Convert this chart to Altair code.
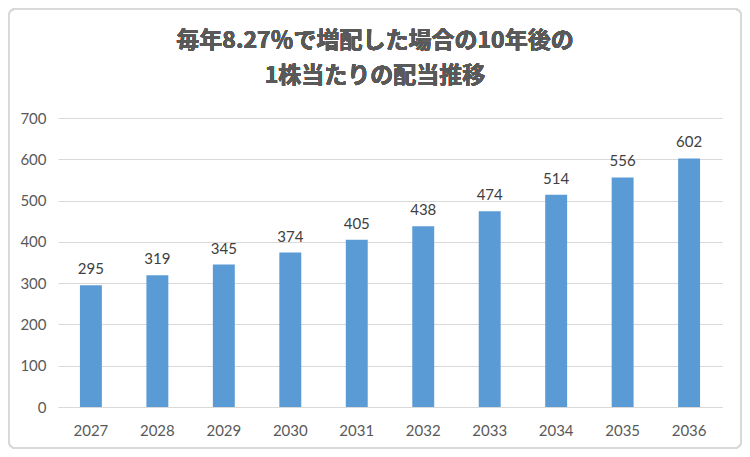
import altair as alt
import pandas as pd

years = ["2027", "2028", "2029", "2030", "2031", "2032", "2033", "2034", "2035", "2036"]
dividends = [295, 319, 345, 374, 405, 438, 474, 514, 556, 602]
title_lines = ["毎年8.27％で増配した場合の10年後の", "1株当たりの配当推移"]

df = pd.DataFrame({"year": years, "dividend": dividends})

gray = "#595959"

base = alt.Chart(df).encode(
    x=alt.X("year:N", sort=years, title=None,
            scale=alt.Scale(paddingInner=0.67, paddingOuter=0.33),
            axis=alt.Axis(labelAngle=0, ticks=False, domainColor="#d9d9d9",
                          labelColor=gray, labelFontSize=15, labelFont="Lato",
                          labelPadding=16)),
    y=alt.Y("dividend:Q", title=None,
            scale=alt.Scale(domain=[0, 700]),
            axis=alt.Axis(values=[0, 100, 200, 300, 400, 500, 600, 700], ticks=False,
                          domain=False, gridColor="#d9d9d9", labelColor=gray,
                          labelFontSize=15, labelFont="Lato", labelPadding=12)),
)

bars = base.mark_bar(color="#5b9bd5")
labels = base.mark_text(dy=-16, fontSize=15, font="Lato", color="#404040").encode(
    text="dividend:Q")

border = alt.Chart(df).mark_rect(fill=None, stroke="#d9d9d9", strokeWidth=1.5,
                                 cornerRadius=6).encode(
    x=alt.value(-49), x2=alt.value(683), y=alt.value(-109), y2=alt.value(330))

def title_line(text, y):
    return alt.Chart(df).mark_text(
        font="Noto Sans CJK JP", fontSize=23, fontWeight="bold", color=gray,
        align="center", baseline="middle").encode(
        x=alt.value(317), y=alt.value(y), text=alt.value(text))

chart = alt.layer(border, bars, labels,
                  title_line(title_lines[0], -77),
                  title_line(title_lines[1], -42)).properties(
    width=664, height=289,
    autosize=alt.AutoSizeParams(type="none"),
    padding={"left": 50, "top": 110, "right": 20, "bottom": 42},
).configure_view(stroke=None)

chart.save("out.html", embed_options={"renderer": "svg", "actions": False})
